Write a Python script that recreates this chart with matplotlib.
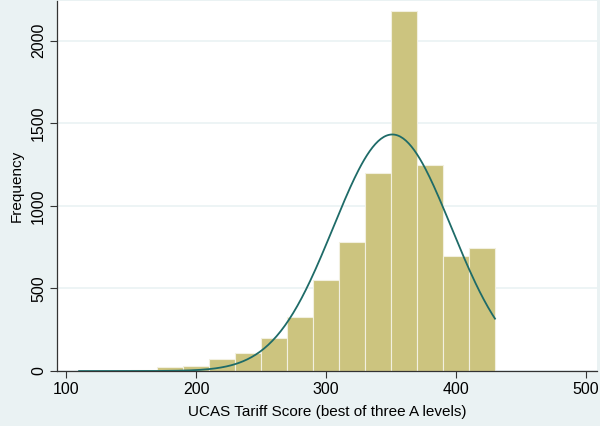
import numpy as np
import matplotlib
matplotlib.use("Agg")
import matplotlib.pyplot as plt

plt.rcParams['font.family'] = ['Liberation Sans', 'DejaVu Sans']

# histogram bins (width 20) and counts
bin_edges = [110, 130, 150, 170, 190, 210, 230, 250, 270, 290,
             310, 330, 350, 370, 390, 410, 430]
counts = [1, 3, 5, 26, 30, 73, 107, 198, 325, 550,
          780, 1198, 2182, 1250, 695, 747]

# normal overlay parameters (estimated from the curve)
norm_mean = 351
norm_sd = 45.5

x_ticks = [100, 200, 300, 400, 500]
y_ticks = [0, 500, 1000, 1500, 2000]

bg = "#eaf2f3"
bar_color = "#ccc47f"
line_color = "#1e6b68"

fig = plt.figure(figsize=(6, 4.26), dpi=100, facecolor=bg)
ax = fig.add_axes([0.095, 0.129, 0.9, 0.869])
ax.set_facecolor("white")

widths = np.diff(bin_edges)
ax.bar(bin_edges[:-1], counts, width=widths, align="edge",
       color=bar_color, edgecolor="#f2f0e0", linewidth=0.8, zorder=2)

# normal density scaled to frequency
n = sum(counts)
bw = widths[0]
xs = np.linspace(bin_edges[0], bin_edges[-1], 300)
ys = n * bw / (norm_sd * np.sqrt(2 * np.pi)) * np.exp(-0.5 * ((xs - norm_mean) / norm_sd) ** 2)
ax.plot(xs, ys, color=line_color, linewidth=1.3, zorder=3)

ax.set_xlim(93, 508.5)
ax.set_ylim(0, 2242)
ax.set_xticks(x_ticks)
ax.set_yticks(y_ticks)
ax.set_yticklabels([str(t) for t in y_ticks], rotation=90, va="center")
ax.grid(axis="y", color=bg, linewidth=1.2, zorder=1)
ax.set_axisbelow(True)

for s in ["top", "right"]:
    ax.spines[s].set_visible(False)
for s in ["left", "bottom"]:
    ax.spines[s].set_color("#333333")
    ax.spines[s].set_linewidth(0.9)
ax.tick_params(axis="both", colors="#333333", labelcolor="black",
               labelsize=11.5, length=5, width=0.8, pad=3)

ax.set_xlabel("UCAS Tariff Score (best of three A levels)", fontsize=11, labelpad=6)
ax.set_ylabel("Frequency", fontsize=11, labelpad=5)

fig.savefig("out.png", dpi=100, facecolor=bg)
